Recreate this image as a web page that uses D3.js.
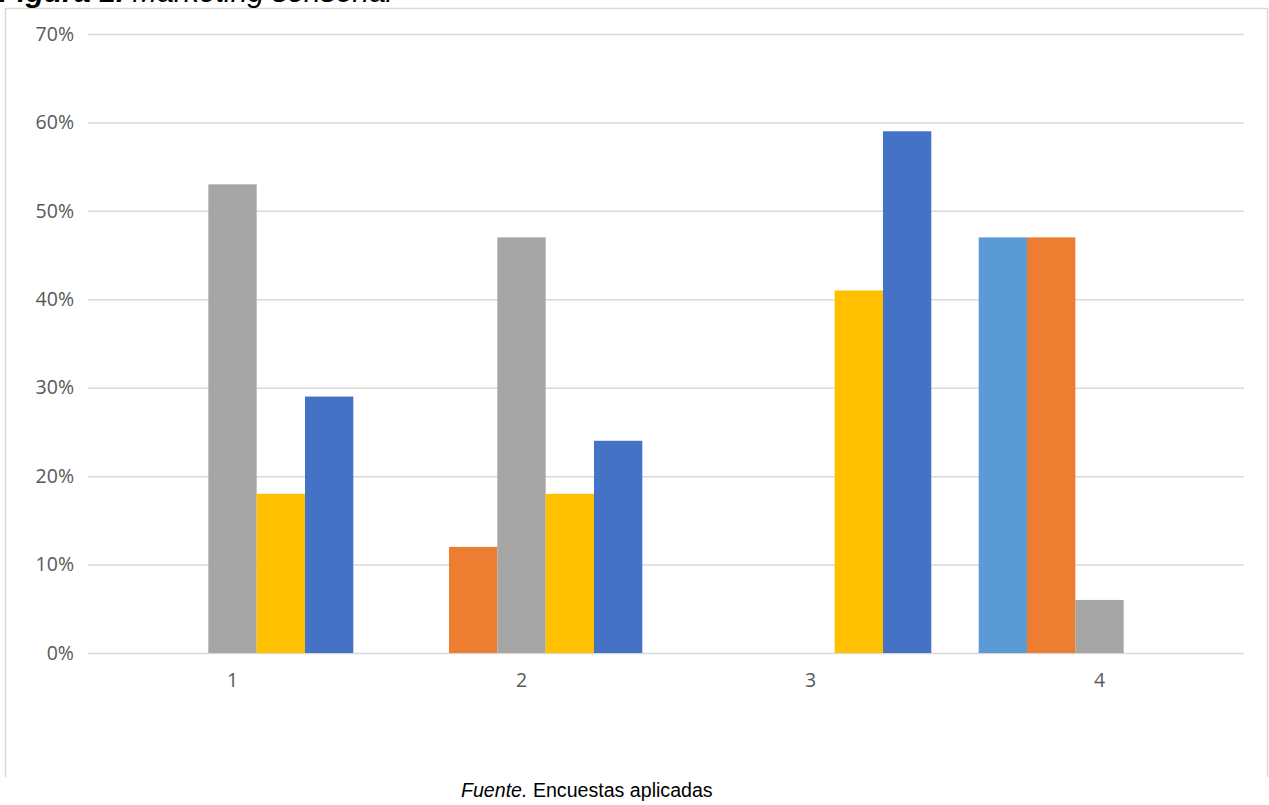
<!DOCTYPE html>
<html>
<head>
<meta charset="utf-8">
<script src="https://cdn.jsdelivr.net/npm/d3@7"></script>
<style>
  html, body { margin: 0; padding: 0; background: #fff; overflow: hidden; }
  svg { display: block; }
</style>
</head>
<body>
<svg id="chart" width="1269" height="805"></svg>
<script>
// ---- data ----
const categories = ["1", "2", "3", "4"];
const seriesNames = ["Serie 1", "Serie 2", "Serie 3", "Serie 4", "Serie 5"];
const serie1 = [0, 0, 0, 47];
const serie2 = [0, 12, 0, 47];
const serie3 = [53, 47, 0, 6];
const serie4 = [18, 18, 41, 0];
const serie5 = [29, 24, 59, 0];
const yTicks = [0, 10, 20, 30, 40, 50, 60, 70];
const colors = ["#5B9BD5", "#ED7D31", "#A5A5A5", "#FFC000", "#4472C4"];
const titleBold = "Figura 1.";
const titleRest = " Marketing sensorial";
const sourceItalic = "Fuente.";
const sourceRest = " Encuestas aplicadas";

const allSeries = [serie1, serie2, serie3, serie4, serie5];

const svg = d3.select("#chart");

// frame
const frameColor = "#d9d9d9";
svg.append("path")
  .attr("d", "M5.5,777 L5.5,8.5 L1267.5,8.5 L1267.5,777")
  .attr("fill", "none").attr("stroke", frameColor).attr("stroke-width", 1.5);

// title (cropped at the top edge, as in the reference)
const title = svg.append("text")
  .attr("x", -1).attr("y", 2)
  .attr("font-family", "Liberation Sans, Arial, sans-serif")
  .attr("font-size", 30).attr("font-style", "italic").attr("fill", "#000");
title.append("tspan").attr("font-weight", "bold").text(titleBold);
title.append("tspan").text(titleRest);

// scales
const plot = { left: 88, right: 1244, top: 34, bottom: 653 };
const x0 = d3.scaleBand().domain(categories).range([plot.left, plot.right]).paddingInner(0).paddingOuter(0);
const gap = x0.bandwidth() * 0.164;
const x1 = d3.scaleBand().domain(d3.range(allSeries.length)).range([gap / 2, x0.bandwidth() - gap / 2]).padding(0);
const y = d3.scaleLinear().domain([0, 70]).range([plot.bottom, plot.top]);

// gridlines + y labels
const yAxis = d3.axisLeft(y).tickValues(yTicks).tickSize(-(plot.right - plot.left)).tickFormat(d => d + "%").tickPadding(14);
const gy = svg.append("g").attr("transform", `translate(${plot.left},0)`).call(yAxis);
gy.select(".domain").remove();
gy.selectAll(".tick line").attr("stroke", "#d9d9d9").attr("stroke-width", 1.5);
gy.selectAll(".tick text")
  .attr("font-family", "Open Sans, sans-serif").attr("font-size", 19.5)
  .attr("fill", "#595959");

// bars
const groups = svg.append("g").selectAll("g")
  .data(categories)
  .join("g")
  .attr("transform", d => `translate(${x0(d)},0)`);

groups.selectAll("rect")
  .data((c, ci) => allSeries.map((s, si) => ({ si, v: s[ci] })).filter(d => d.v > 0))
  .join("rect")
  .attr("x", d => x1(d.si))
  .attr("width", x1.bandwidth())
  .attr("y", d => y(d.v))
  .attr("height", d => y(0) - y(d.v))
  .attr("fill", d => colors[d.si]);

// x axis labels
const xAxis = d3.axisBottom(x0).tickSize(0).tickPadding(20);
const gx = svg.append("g").attr("transform", `translate(0,${plot.bottom})`).call(xAxis);
gx.select(".domain").remove();
gx.selectAll(".tick text")
  .attr("font-family", "Open Sans, sans-serif").attr("font-size", 19.5)
  .attr("fill", "#595959");

// source
const src = svg.append("text")
  .attr("x", 461).attr("y", 797)
  .attr("font-family", "Liberation Sans, Arial, sans-serif")
  .attr("font-size", 19.6).attr("fill", "#000");
src.append("tspan").attr("font-style", "italic").text(sourceItalic);
src.append("tspan").text(sourceRest);
</script>
</body>
</html>
